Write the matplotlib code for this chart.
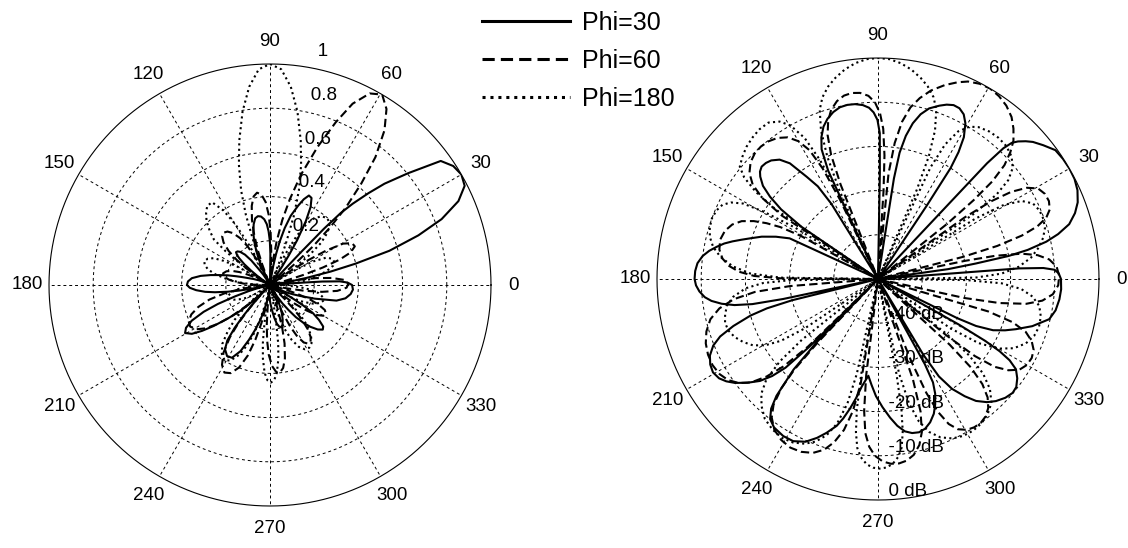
import numpy as np
import matplotlib.pyplot as plt

plt.rcParams['font.family'] = ['Liberation Sans', 'DejaVu Sans']

# pattern samples: [angle (deg), level (dB)], nulls clipped at -50 dB
phi30 = np.array([
    [-27, -50], [-26.3, -30], [-25.6, -25.4], [-24, -21.5], [-22, -19], [-20, -16.8], [-17, -13.5],
    [-13.2, -10.2], [-10, -9.2], [-6.4, -8.7], [-3.2, -8.5], [0, -8.6], [1.8, -9.1], [3.0, -10],
    [3.8, -12.5], [4.3, -18], [4.6, -50],
    [7, -50], [8, -34], [9, -27.6], [10, -20], [11, -15.5], [12.5, -11], [14, -8], [16, -5], [18.5, -3],
    [21, -1.6], [24, -0.6], [27, -0.1], [30, 0], [33, -0.1], [36, -0.4], [39, -1.9], [41.5, -3.2],
    [43, -4.3], [44.5, -5.6], [45.5, -6.8], [46.2, -9], [46.7, -14], [47, -50],
    [56, -50], [56.4, -30], [56.8, -20], [57.6, -16], [58.8, -12.5], [60.7, -9.6], [62.5, -8], [64.5, -7.2],
    [66.5, -7.1], [68.5, -7.6], [70.5, -8.4], [73.3, -9.7], [75.5, -11.5], [77.4, -13.9], [79, -17],
    [80.3, -21], [81, -27], [81.5, -50],
    [88.7, -50], [89, -26], [89.3, -17], [90.2, -14], [91.5, -12.3], [93, -11.2], [95, -10.5], [97.5, -10.1],
    [100, -10], [102.5, -10.2], [105, -10.9], [107.5, -12], [109.7, -13.4], [111.8, -15.5], [113.5, -18],
    [114.7, -23], [115.3, -50],
    [121, -50], [121.8, -30], [123, -25], [124.9, -21.8], [127.3, -17.1], [129.5, -15], [132, -13.9],
    [134, -13.5], [136, -13.4], [137.7, -13.9], [139, -14.7], [141, -16.5], [142.7, -19.3], [144.3, -23],
    [145.7, -29], [146.3, -50],
    [155, -50], [155.3, -28], [157.5, -25], [160, -22], [162.4, -19.6], [164, -17.8], [165.5, -16],
    [167, -14.3], [168.7, -12.8], [170.5, -11.3], [172.5, -10], [175, -9], [177.5, -8.6], [180, -8.5],
    [182, -8.8], [184, -9.5], [186, -10.6], [187.5, -12], [189, -14.2], [190.3, -17], [191.3, -21],
    [191.9, -28], [192.3, -50],
    [193.5, -50], [193.9, -30], [194.8, -24], [196, -20], [198, -15.6], [200, -12], [202, -9.8],
    [204.5, -8.2], [207, -7.4], [209.5, -7.1], [212, -7.6], [214, -8.6], [216, -10], [218.5, -12.3],
    [220.8, -14.7], [222.5, -17.5], [223.8, -21], [224.6, -28], [225, -50],
    [225.5, -50], [225.9, -30], [227, -22], [229, -15], [230.5, -12], [232.4, -10], [235, -9], [238.9, -8.5],
    [242.4, -8.6], [246, -9.7], [249, -11.5], [251.5, -13.3], [254.3, -15.5], [256, -17.5], [257.8, -20],
    [259.5, -22.5], [261.5, -25.5], [264.3, -28],
    [266.5, -26], [269, -23.5], [272, -21], [275, -18.5], [277.5, -16.5], [280, -15], [282.5, -14.3],
    [285, -14.1], [287.5, -14.5], [290, -15.5], [292.5, -17], [294.5, -18.8], [296.5, -21], [298, -23.5],
    [298.8, -28], [299.3, -50],
    [300.5, -50], [300.9, -30], [302, -24], [304, -20], [306.5, -17], [308.8, -14.6], [311.5, -12.8],
    [314, -11.6], [317, -10.6], [319.8, -10.1], [322, -10.3], [324.5, -11.3], [326.8, -12.7], [328.3, -15],
    [329.3, -18], [330, -22], [330.6, -29], [331, -50], [333, -50],
])

phi60 = np.array([
    [-13, -50], [-12.4, -30], [-11.2, -22], [-9.5, -16], [-7.5, -12.5], [-5, -10.3], [-2, -9.2], [1, -9],
    [4, -9.5], [6.5, -11], [8.5, -13.5], [10, -17], [11.2, -23], [11.8, -30], [12, -50],
    [14, -50], [14.6, -30], [15.5, -22], [16.8, -16], [18.3, -12], [20, -9.5], [22, -8.1], [24.5, -7.5],
    [27, -7.6], [29.5, -8.4], [31.5, -10.5], [33.2, -14], [34.5, -19], [35.4, -26], [36, -50],
    [38, -50], [38.6, -30], [39.5, -22], [40.5, -16], [42, -11.5], [43.8, -8.5], [45.6, -6.2], [48, -4.2],
    [50.5, -2.5], [53.5, -1.2], [56.5, -0.4], [59.5, 0], [62.5, -0.2], [65.5, -0.9], [68, -2], [71, -3.6],
    [74.3, -5.7], [77, -8], [79.3, -10.5], [81.3, -14], [83, -19], [84.3, -26], [85.2, -50],
    [86, -50], [86.4, -30], [87, -22], [88, -16], [89.3, -12.5], [91, -10], [93, -8.5], [95.5, -7.7],
    [98, -7.5], [100.5, -7.8], [103, -8.7], [105.5, -10.3], [107.5, -12.5], [109.3, -15.5], [110.7, -20],
    [111.6, -27], [112, -50],
    [115, -50], [115.6, -30], [116.6, -22], [118, -17], [120, -14], [122.5, -12], [125.5, -10.8],
    [128.5, -10.2], [131.5, -10], [134.5, -10.2], [137.5, -10.9], [140.5, -12.3], [143, -14.5], [145, -18],
    [146.6, -24], [147.5, -50],
    [150, -50], [150.8, -30], [152, -25], [153.4, -21.8], [155, -19], [157, -16.5], [159.5, -14.8],
    [162.5, -13.7], [166, -13.2], [169.5, -13.5], [172.5, -14.5], [175, -16.2], [177, -18.5], [178.6, -22],
    [179.6, -28], [180.2, -50],
    [184, -50], [184.6, -30], [186, -22], [188, -17], [190.5, -13.5], [193.5, -11], [197, -9.4],
    [200.5, -8.4], [204, -7.9], [207.5, -7.8], [211, -8.2], [214, -9.1], [216.8, -10.7], [219.2, -13],
    [221.2, -16.5], [222.8, -21], [224, -28], [224.6, -50],
    [226, -50], [226.5, -30], [227.3, -22], [228.5, -17], [230.3, -13], [232.5, -10.5], [235.5, -8.6],
    [239, -7.5], [242.5, -7], [246, -7.2], [249.5, -8], [252.5, -9.5], [255, -11.8], [257.3, -15],
    [259.2, -19.5], [260.6, -26], [261.3, -50],
    [262.5, -50], [263, -28], [264, -20], [265.3, -15], [267, -12], [269, -10], [271.5, -8.7], [274, -8.1],
    [276.5, -8], [279, -8.4], [281.5, -9.4], [284, -11.3], [286, -14], [287.8, -18.5], [289.2, -26], [290, -50],
    [291.5, -50], [292, -30], [293, -22], [294.3, -17], [296, -13.5], [298, -11.5], [300.5, -10.4], [303, -10],
    [305.5, -10], [308, -10.5], [310.5, -11.6], [312.8, -13.5], [314.8, -16.5], [316.4, -21], [317.5, -28],
    [318, -50],
    [320, -50], [320.5, -30], [321.5, -22], [323, -17], [325, -14], [327.3, -12], [330, -11.1], [332.8, -10.9],
    [335.5, -11.3], [338, -12.5], [340.3, -14.5], [342.2, -18], [343.6, -24], [344.4, -50], [347, -50],
])

phi180 = np.array([
    [0, -50], [0.8, -28], [2.5, -22], [5, -18], [8, -15], [11, -13], [14, -11.5], [17, -10.5], [20, -10.2],
    [23, -10.3], [26, -11], [28.5, -13], [30.5, -17], [31.8, -24], [32.5, -50],
    [33.5, -50], [34.2, -24], [35.5, -17], [37.2, -13], [39.5, -10.5], [42.5, -9], [46, -8.2], [49.5, -8],
    [53, -8.2], [56.5, -8.8], [59, -9.8], [61.5, -12], [63.5, -16], [64.8, -22], [65.5, -50],
    [66, -50], [66.5, -28], [67.5, -20], [69, -14], [71, -9.5], [73, -7], [75.5, -5], [78, -3.5], [81, -2],
    [84, -0.9], [87, -0.2], [90, 0], [93, -0.2], [96, -0.9], [99, -2], [102, -3.5], [104.5, -5], [107, -7],
    [109, -9.5], [111, -14], [112.5, -20], [113.5, -28], [114, -50],
    [114.5, -50], [115, -28], [116, -20], [117.5, -14], [119.7, -10], [122, -8], [125, -6.8], [128.4, -6.8],
    [131.5, -7.2], [134.8, -7.8], [138, -8.7], [140.9, -9.7], [142.8, -12], [144.5, -16], [145.8, -22],
    [146.5, -50],
    [147.5, -50], [148.2, -28], [149.5, -20], [150.8, -15], [152.5, -12.5], [154.5, -11], [157, -10.3],
    [160, -10], [163, -10.2], [166, -10.8], [169, -12], [172, -14], [175, -17], [177.5, -21], [179.2, -28],
    [180, -50],
    [180.8, -30], [182, -24], [184, -20], [187, -17], [190, -15.3], [193, -14.5], [196, -14], [199, -14.2],
    [202, -15], [205, -16.3], [208, -18], [210.5, -20.5], [212.5, -24], [214, -30], [215, -50],
    [218, -50], [218.6, -28], [220, -21], [222, -16], [224.5, -13], [227.5, -11], [231, -9.3], [235, -8.4],
    [239, -8], [242.5, -8.3], [246, -9.2], [249, -10.6], [251.8, -12.8], [254.2, -16], [256.2, -21],
    [257.4, -28], [258, -50],
    [259.5, -50], [260, -28], [260.8, -20], [261.8, -15], [263, -11.5], [264.5, -9.5], [266.5, -8],
    [268.5, -7.3], [270.5, -7.1], [272.5, -7.3], [274.5, -8], [276.5, -9.5], [278, -11.5], [279.2, -15],
    [280.2, -20], [281, -28], [281.5, -50],
    [282, -50], [282.6, -28], [284, -21], [286, -16.5], [288.5, -13.5], [291.5, -11.5], [295, -10.2],
    [298.5, -9.6], [302, -9.5], [305.5, -9.8], [309, -10.6], [312.5, -12], [315.5, -14.5], [318, -18],
    [320, -23], [321.3, -30], [322, -50],
    [325, -50], [325.8, -30], [327.5, -23], [330, -18.5], [333, -15.5], [336.5, -13.5], [340, -12.4],
    [343.5, -12], [347, -12.2], [350.5, -13], [353.5, -14.8], [356, -17.5], [358, -22], [359.3, -30], [360, -50],
])

labels = ["Phi=30", "Phi=60", "Phi=180"]
styles = ["-", (0, (4, 2)), (0, (1, 1.6))]
patterns = [phi30, phi60, phi180]

theta_ticks = np.arange(0, 360, 30)
lin_rings = [0.2, 0.4, 0.6, 0.8, 1.0]
lin_ring_text = ["0.2", "0.4", "0.6", "0.8", "1"]
db_rings = [-40, -30, -20, -10, 0]
db_ring_text = ["-40 dB", "-30 dB", "-20 dB", "-10 dB", "0 dB"]

FS = 13.5


def polar_frame(ax, rmin, rmax, rings):
    # matlab style grid: dashed rings and spokes, solid outer circle
    ax.set_axis_off()
    ax.set_ylim(rmin, rmax)
    t = np.linspace(0, 2 * np.pi, 721)
    for r in rings:
        if r == rmax:
            ax.plot(t, np.full_like(t, r), color="k", lw=0.8, clip_on=False)
        else:
            ax.plot(t, np.full_like(t, r), color="k", lw=0.7, ls=(0, (3, 3)))
    for a in theta_ticks:
        th = np.deg2rad(a)
        ax.plot([th, th], [rmin, rmax], color="k", lw=0.7, ls=(0, (3, 3)))
        ax.text(th, rmin + 1.1 * (rmax - rmin), str(a), ha="center", va="center", fontsize=FS)


fig = plt.figure(figsize=(11.28, 5.48), dpi=100)
axL = fig.add_axes([49 / 1128, 42 / 548, 442 / 1128, 442 / 548], projection="polar")
axR = fig.add_axes([657 / 1128, 48 / 548, 442 / 1128, 442 / 548], projection="polar")

# left: linear amplitude
polar_frame(axL, 0, 1, lin_rings)
for r, s in zip(lin_rings, lin_ring_text):
    axL.text(np.deg2rad(82), r + 0.028, "   " + s, ha="left", va="bottom", fontsize=FS)
for pat, ls in zip(patterns, styles):
    axL.plot(np.deg2rad(pat[:, 0]), 10 ** (pat[:, 1] / 20), color="k", lw=1.5, ls=ls)

# right: level in dB
polar_frame(axR, -50, 0, db_rings)
for r, s in zip(db_rings, db_ring_text):
    axR.text(np.deg2rad(270), r, "  " + s, ha="left", va="bottom", fontsize=FS)
handles = []
for pat, ls in zip(patterns, styles):
    ln, = axR.plot(np.deg2rad(pat[:, 0]), pat[:, 1], color="k", lw=1.5, ls=ls)
    handles.append(ln)

leg = fig.legend(handles, labels, loc="upper left", bbox_to_anchor=(482 / 1128, 1 - 11 / 548),
                 frameon=False, fontsize=18, handlelength=3.5, handletextpad=0.5,
                 labelspacing=0.55, borderpad=0, borderaxespad=0)
for ln in leg.get_lines():
    ln.set_linewidth(2.2)

fig.savefig("out.png", dpi=100)
